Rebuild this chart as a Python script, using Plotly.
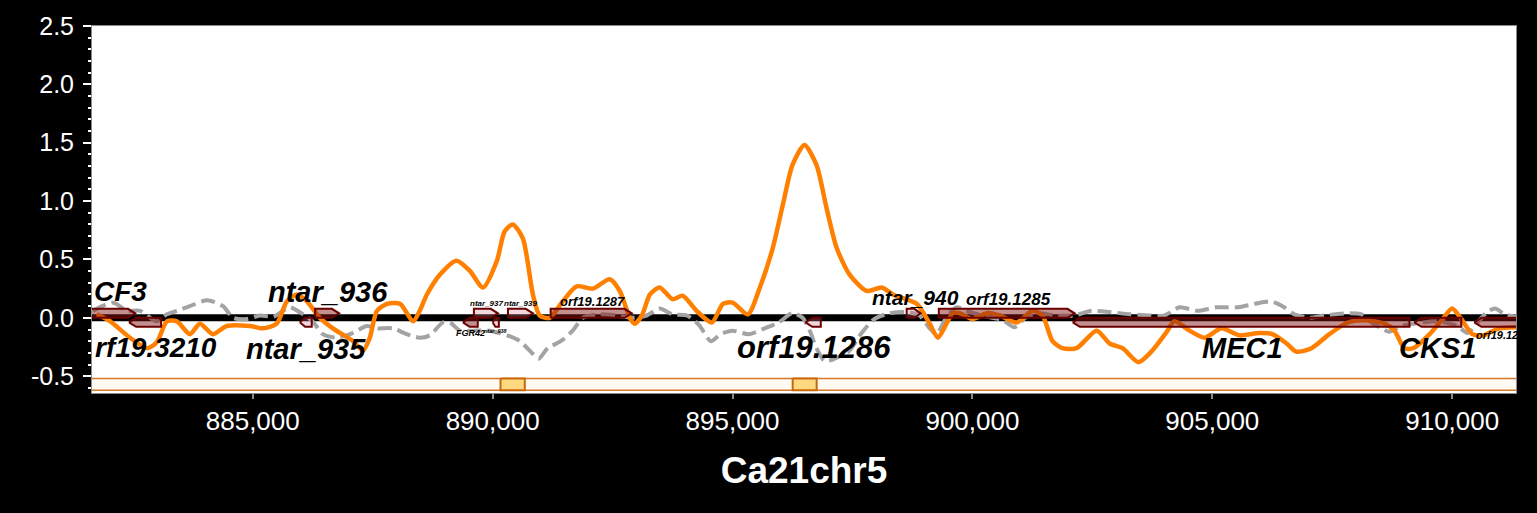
import plotly.graph_objects as go

# ---------------- data ----------------
# orange (solid) track
orange_x = [881750, 882030, 882440, 882800, 883000, 883210, 883420, 883690, 883900, 884170,
            884460, 884940, 885210, 885500, 885710, 885920, 886130, 886400, 886670, 887090,
            887300, 887440, 887590, 887800, 888070, 888340, 888480, 888630, 888900, 889250,
            889530, 889800, 890090, 890250, 890420, 890630, 890840, 890980, 891190, 891460,
            891750, 892090, 892440, 892650, 892860, 892960, 893110, 893280, 893480, 893750,
            893960, 894250, 894570, 894800, 895000, 895320, 895570, 895840, 896050, 896250,
            896500, 896750, 896960, 897170, 897440, 897800, 898110, 898340, 898840, 899110,
            899280, 899460, 899590, 899730, 900000, 900300, 900570, 900920, 901250, 901460,
            901670, 901880, 902170, 902590, 902860, 903130, 903460, 903730, 904050, 904210,
            904530, 904840, 905190, 905570, 905980, 906250, 906550, 906750, 907070, 907440,
            907820, 908170, 908590, 908800, 909000, 909190, 909530, 909800, 910000, 910190,
            910420, 910650, 910980, 911340]
orange_y = [0.03, -0.03, -0.17, -0.26, -0.21, -0.03, -0.03, -0.14, -0.05, -0.14,
            -0.07, -0.07, -0.09, -0.05, 0.14, 0.20, 0.14, 0.00, -0.09, -0.20,
            -0.28, -0.17, 0.06, 0.12, 0.12, -0.03, 0.06, 0.20, 0.37, 0.49,
            0.40, 0.26, 0.49, 0.74, 0.80, 0.68, 0.20, 0.02, 0.00, 0.14,
            0.27, 0.25, 0.33, 0.23, 0.00, -0.05, 0.02, 0.20, 0.26, 0.16,
            0.19, 0.06, -0.04, 0.12, 0.13, 0.03, 0.26, 0.60, 0.97, 1.31,
            1.48, 1.31, 0.94, 0.60, 0.37, 0.23, 0.26, 0.20, 0.12, -0.05,
            -0.17, -0.05, 0.04, 0.04, -0.01, 0.04, 0.02, -0.04, 0.06, 0.02,
            -0.20, -0.26, -0.26, -0.11, -0.22, -0.26, -0.38, -0.29, -0.12, -0.03,
            -0.11, -0.17, -0.09, -0.15, -0.13, -0.14, -0.22, -0.29, -0.26, -0.14,
            -0.04, -0.02, -0.05, -0.11, -0.26, -0.26, -0.14, -0.01, 0.08, -0.01,
            -0.14, -0.15, -0.09, -0.08]

# gray (dashed) track
gray_x = [881670, 882090, 882380, 882650, 883000, 883210, 883420, 883690, 884050, 884380,
          884590, 884880, 885150, 885430, 885630, 885780, 886050, 886250, 886460, 886750,
          887030, 887380, 887590, 887920, 888210, 888480, 888690, 888960, 889110, 889320,
          889590, 889940, 890300, 890570, 890840, 890960, 891150, 891420, 891670, 891880,
          892230, 892590, 892920, 893210, 893480, 893750, 894050, 894300, 894550, 894750,
          895000, 895340, 895670, 895960, 896250, 896460, 896610, 896750, 896920, 897130,
          897440, 897690, 897960, 898280, 898630, 898900, 899110, 899250, 899440, 899670,
          899940, 900300, 900630, 900880, 901130, 901400, 901710, 902130, 902480, 902860,
          903280, 903690, 904000, 904320, 904690, 905090, 905530, 905880, 906230, 906500,
          906710, 907030, 907340, 907860, 908110, 908320, 908530, 908690, 908940, 909210,
          909690, 910110, 910320, 910530, 910730, 910900, 911090, 911340]
gray_y = [0.06, 0.13, 0.06, 0.06, -0.03, 0.03, 0.06, 0.10, 0.15, 0.10,
          0.00, -0.01, 0.02, 0.01, 0.06, 0.09, 0.03, -0.03, -0.14, -0.17,
          -0.14, -0.07, -0.09, -0.09, -0.14, -0.17, -0.15, -0.04, -0.04, -0.11,
          -0.11, -0.11, -0.15, -0.20, -0.31, -0.35, -0.26, -0.20, -0.11, 0.00,
          0.03, 0.02, 0.00, 0.02, 0.08, 0.03, 0.02, -0.06, -0.20, -0.14,
          -0.11, -0.14, -0.09, -0.04, 0.04, 0.00, -0.11, -0.26, -0.37, -0.35,
          -0.28, -0.13, -0.01, 0.04, 0.05, 0.02, -0.09, -0.14, -0.01, 0.09,
          0.05, 0.01, -0.02, -0.08, 0.01, 0.04, 0.02, 0.02, 0.06, 0.05,
          0.03, 0.02, 0.02, 0.09, 0.06, 0.09, 0.09, 0.12, 0.14, 0.09,
          0.03, 0.00, 0.02, 0.04, 0.03, -0.04, -0.09, -0.12, -0.07, -0.05,
          -0.03, -0.07, -0.13, -0.04, 0.05, 0.08, 0.03, 0.01]

# genes
gene_names = ["CF3", "orf19.3210", "ntar_935", "ntar_936", "FGR42", "ntar_937", "ntar_938",
              "ntar_939", "orf19.1287", "orf19.1286", "ntar_940", "orf19.1285", "MEC1",
              "CKS1", "orf19.12"]
gene_start = [881400, 882420, 885980, 886300, 889380, 889610, 890000, 890320, 891210,
              896520, 898630, 899300, 902090, 909210, 910460]
gene_end = [882550, 883090, 886230, 886800, 889690, 890110, 890130, 890840, 892900,
            896840, 898920, 902130, 909110, 910190, 911600]
gene_strand = [1, -1, -1, 1, -1, 1, -1, 1, 1, -1, 1, 1, -1, -1, -1]
gene_light = [False, False, True, False, False, True, True, True, False, True, True,
              False, False, False, False]

# gene labels
label_text = ["CF3", "rf19.3210", "ntar_936", "ntar_935", "ntar_937", "ntar_939", "FGR42",
              "ntar_938", "orf19.1287", "orf19.1286", "ntar_940", "orf19.1285", "MEC1",
              "CKS1", "orf19.12"]
label_x = [881650, 881680, 886577, 886108, 889879, 890587, 889546, 890067, 892077, 896692,
           898806, 900744, 905629, 909702, 910463]
label_y = [0.226, -0.255, 0.22, -0.264, 0.12, 0.12, -0.128, -0.11, 0.14, -0.25, 0.175,
           0.158, -0.255, -0.255, -0.15]
label_size = [28, 28, 29, 29, 8, 8, 9, 5.5, 13, 31, 21, 17, 29, 29, 11]
label_anchor = ["left", "left", "center", "center", "center", "center", "center", "center",
                "center", "center", "center", "center", "center", "center", "left"]

# enriched regions (yellow boxes)
peak_start = [890165, 896254]
peak_end = [890671, 896754]

ytick_vals = [-0.5, 0.0, 0.5, 1.0, 1.5, 2.0, 2.5]
ytick_text = ["-0.5", "0.0", "0.5", "1.0", "1.5", "2.0", "2.5"]
x_range = [881650, 911330]
y_range = [-0.644, 2.5]
x_title = "Ca21chr5"

FONT = "Liberation Sans, Arial, sans-serif"

fig = go.Figure()

# tracks
fig.add_trace(go.Scatter(x=gray_x, y=gray_y, mode="lines",
                         line=dict(color="#A3A3A3", width=4, dash="14px,6px",
                                   shape="spline", smoothing=0.7),
                         hoverinfo="skip"))
fig.add_trace(go.Scatter(x=orange_x, y=orange_y, mode="lines",
                         line=dict(color="#FF8000", width=4.5, shape="spline", smoothing=0.7),
                         hoverinfo="skip"))

# genes
GENE_H = 0.077
for name, s, e, st, lt in zip(gene_names, gene_start, gene_end, gene_strand, gene_light):
    ar = min(150, 0.45 * (e - s))
    if st > 0:
        xs = [s, e - ar, e, e - ar, s, s]
        ys = [0, 0, GENE_H / 2, GENE_H, GENE_H, 0]
    else:
        xs = [s, s + ar, e, e, s + ar, s]
        ys = [-GENE_H / 2, 0, 0, -GENE_H, -GENE_H, -GENE_H / 2]
    fill = "rgba(215,120,140,0.30)" if lt else "rgba(130,20,20,0.48)"
    fig.add_trace(go.Scatter(x=xs, y=ys, mode="lines", fill="toself", fillcolor=fill,
                             line=dict(color="#6B0000", width=2), name=name,
                             hoverinfo="skip"))

# peaks
for s, e in zip(peak_start, peak_end):
    fig.add_trace(go.Scatter(x=[s, e, e, s, s], y=[-0.52, -0.52, -0.62, -0.62, -0.52],
                             mode="lines", fill="toself", fillcolor="#FFD97F",
                             line=dict(color="#C8680A", width=2), hoverinfo="skip"))

# background elements: baseline + band
fig.add_shape(type="rect", xref="x domain", yref="y", x0=0, x1=1, y0=-0.62, y1=-0.52,
              fillcolor="#FFFAF4", line=dict(width=0), layer="below")
for yy in (-0.52, -0.62):
    fig.add_shape(type="line", xref="x domain", yref="y", x0=0, x1=1, y0=yy, y1=yy,
                  line=dict(color="#D2792A", width=1.5), layer="below")
fig.add_shape(type="line", xref="x domain", yref="y", x0=0, x1=1, y0=0, y1=0,
              line=dict(color="black", width=7), layer="below")

for t, x, y, sz, an in zip(label_text, label_x, label_y, label_size, label_anchor):
    fig.add_annotation(x=x, y=y, text="<b><i>%s</i></b>" % t, showarrow=False,
                       xanchor=an, yanchor="middle",
                       font=dict(family=FONT, size=sz, color="black"))

fig.update_layout(
    width=1537, height=513,
    paper_bgcolor="black", plot_bgcolor="white",
    margin=dict(l=92, r=21, t=22, b=120),
    showlegend=False,
    font=dict(family=FONT, color="white"),
)
fig.update_xaxes(range=x_range, showgrid=False, zeroline=False,
                 showline=True, linecolor="#8A8A8A", linewidth=1, mirror=True,
                 ticks="outside", ticklen=5, tickcolor="#8A8A8A", tickwidth=2,
                 tick0=885000, dtick=5000, tickformat=",d",
                 tickfont=dict(size=26, color="white", family=FONT),
                 title=dict(text="<b>%s</b>" % x_title, standoff=21,
                            font=dict(size=37, color="white", family=FONT)))
fig.update_yaxes(range=y_range, showgrid=False, zeroline=False,
                 showline=True, linecolor="#8A8A8A", linewidth=1, mirror=True,
                 ticks="outside", ticklen=8, tickcolor="white", tickwidth=2,
                 tickvals=ytick_vals, ticktext=ytick_text, ticklabelstandoff=4,
                 minor=dict(dtick=0.1, tick0=0, ticks="outside", ticklen=3,
                            tickcolor="white", tickwidth=2),
                 tickfont=dict(size=25, color="white", family=FONT))

fig.write_html("out.html",
               config={"displayModeBar": False, "staticPlot": True},
               post_script="document.body.style.margin='0';"
                           "document.body.style.background='black';")
